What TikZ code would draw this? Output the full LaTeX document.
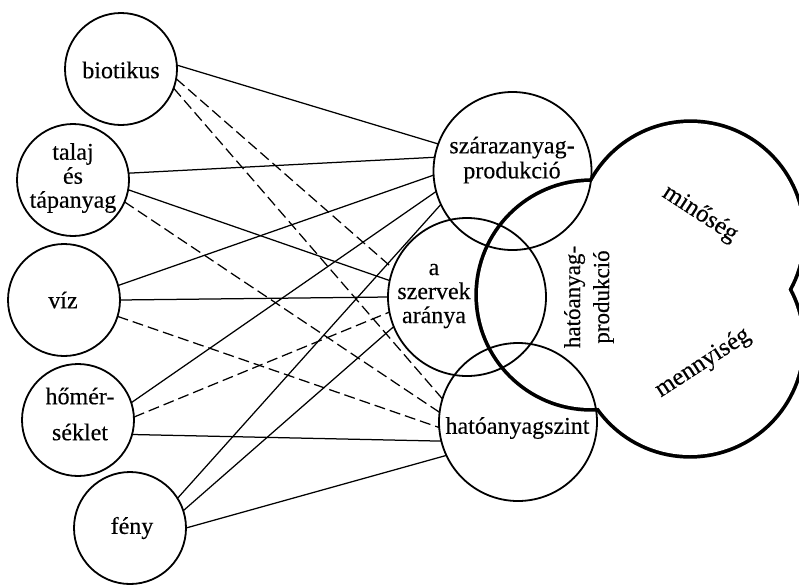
\documentclass[tikz,border=0pt]{standalone}
\usepackage{fontspec}
\setmainfont{Liberation Serif}[UprightFeatures={FakeBold=0.3}]
\begin{document}
\begin{tikzpicture}[x=1pt,y=-1pt,
  small/.style={circle,draw,line width=1.8pt,minimum size=112pt,inner sep=0pt,outer sep=0pt},
  mid/.style={circle,draw,line width=1.8pt,minimum size=158pt,inner sep=0pt,outer sep=0pt},
  big/.style={circle,draw,line width=7.4pt,inner sep=0pt,outer sep=0pt},
  lbl/.style={font=\fontsize{24}{24}\selectfont,align=center,inner sep=0pt},
  conn/.style={line width=1.25pt},
  dconn/.style={line width=1.25pt,dash pattern=on 11pt off 5pt}]
\useasboundingbox (0,0) rectangle (799,584);
% thick outline of the union (hatóanyag-produkció + two lobes)
\node[big,minimum size=226pt] (hp) at (591,295) {};
\node[big,minimum size=224pt] (lobeA) at (690.5,235) {};
\node[big,minimum size=224pt] (lobeB) at (690,343) {};
\fill[white] (591,295) circle[radius=113];
\fill[white] (690.5,235) circle[radius=112];
\fill[white] (690,343) circle[radius=112];
% left circles
\node[small] (bio) at (121,69) {};
\node[small] (talaj) at (73,180) {};
\node[small] (viz) at (64,300) {};
\node[small] (hom) at (78,420) {};
\node[small] (feny) at (130,528) {};
% right circles
\node[mid] (szaraz) at (512.5,171) {};
\node[mid] (szervek) at (467,297) {};
\node[mid] (szint) at (518,422) {};
% labels
\node[lbl] (tbio) at (121,70) {biotikus};
\node[lbl] (ttalaj) at (73,178) {talaj\\és\\tápanyag};
\node[lbl] (tviz) at (63,300) {víz};
\node[lbl,font=\fontsize{24}{36}\selectfont] (thom) at (80,414) {hőmér-\\séklet};
\node[lbl] (tfeny) at (132,528) {fény};
\node[lbl,font=\fontsize{24}{25}\selectfont] (tszaraz) at (512,160) {szárazanyag-\\produkció};
\node[lbl] (tszervek) at (434,296) {a\\szervek\\aránya};
\node[lbl] (tszint) at (517.5,428) {hatóanyagszint};
\node[lbl,font=\fontsize{23}{29}\selectfont,rotate=90] (thp) at (589,297) {hatóanyag-\\produkció};
\node[lbl,font=\fontsize{25}{25}\selectfont,rotate=-33] (tmin) at (700,214) {minőség};
\node[lbl,font=\fontsize{25}{25}\selectfont,rotate=33] (tmenny) at (703,363) {mennyiség};
% connectors
\draw[conn] (bio.4) -- (szaraz.160);
\draw[dconn] (bio.-10) -- (szervek.159);
\draw[dconn] (bio.-20) -- (szint.163);
\draw[conn] (talaj.7) -- (szaraz.170);
\draw[conn] (talaj.-10) -- (szervek.168);
\draw[dconn] (talaj.-23) -- (szint.173);
\draw[conn] (viz.15) -- (szaraz.183);
\draw[conn] (viz.0) -- (szervek.180);
\draw[dconn] (viz.-17) -- (szint.184);
\draw[conn] (hom.18) -- (szaraz.195);
\draw[dconn] (hom.3) -- (szervek.191);
\draw[conn] (hom.-15) -- (szint.194);
\draw[conn] (feny.32) -- (szaraz.205);
\draw[conn] (feny.18) -- (szervek.202);
\draw[conn] (feny.0) -- (szint.205);
\end{tikzpicture}
\end{document}
